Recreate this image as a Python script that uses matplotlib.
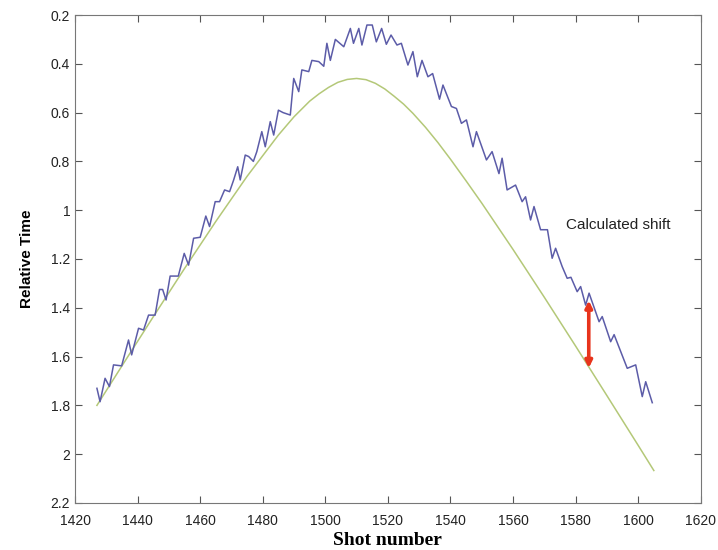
import matplotlib
matplotlib.use("Agg")
import matplotlib.pyplot as plt

# model curve
model_shot = [1427, 1435, 1445, 1455, 1465, 1475, 1485, 1490, 1495, 1498,
              1501, 1504, 1507, 1510, 1513, 1516, 1519, 1522, 1525, 1528,
              1532, 1536, 1540, 1545, 1550, 1560, 1570, 1580, 1590, 1600, 1605]
model_time = [1.800, 1.638, 1.437, 1.239, 1.046, 0.861, 0.692, 0.617, 0.553,
              0.523, 0.497, 0.476, 0.464, 0.460, 0.465, 0.480, 0.503, 0.533,
              0.565, 0.603, 0.660, 0.723, 0.791, 0.880, 0.971, 1.161, 1.357,
              1.557, 1.760, 1.964, 2.067]

# picked times (jagged line)
pick_shot = [1427.0, 1428.0, 1429.6, 1431.0, 1432.3, 1434.9, 1437.1, 1438.1,
             1440.3, 1441.9, 1443.5, 1445.6, 1447.0, 1448.0, 1449.1, 1450.4,
             1453.0, 1454.9, 1456.3, 1457.9, 1460.0, 1461.8, 1463.0, 1464.8,
             1466.2, 1467.8, 1469.4, 1470.7, 1472.0, 1472.8, 1474.4, 1475.5,
             1477.0, 1478.1, 1479.7, 1480.8, 1482.4, 1483.5, 1485.0, 1486.5,
             1488.8, 1489.9, 1491.5, 1492.5, 1494.7, 1495.7, 1497.9, 1499.5,
             1500.5, 1501.6, 1503.2, 1505.9, 1508.0, 1509.0, 1510.7, 1511.7,
             1513.3, 1515.0, 1516.3, 1518.0, 1519.5, 1521.0, 1522.9, 1524.3,
             1526.4, 1528.0, 1529.4, 1530.9, 1532.8, 1534.3, 1536.5, 1537.6,
             1540.3, 1541.9, 1543.5, 1545.1, 1547.2, 1548.3, 1551.5, 1553.3,
             1555.5, 1556.5, 1558.1, 1560.8, 1562.9, 1564.0, 1565.6, 1566.7,
             1568.8, 1571.0, 1572.5, 1573.6, 1575.7, 1577.3, 1578.5, 1580.5,
             1581.6, 1583.2, 1584.3, 1587.5, 1588.5, 1591.2, 1592.3, 1596.5,
             1599.2, 1601.3, 1602.4, 1604.5]
pick_time = [1.730, 1.785, 1.689, 1.723, 1.634, 1.638, 1.532, 1.593,
             1.484, 1.491, 1.430, 1.430, 1.325, 1.325, 1.368, 1.270,
             1.270, 1.177, 1.225, 1.115, 1.111, 1.024, 1.067, 0.965,
             0.965, 0.917, 0.924, 0.876, 0.822, 0.876, 0.774, 0.780,
             0.800, 0.760, 0.678, 0.740, 0.637, 0.692, 0.590, 0.600,
             0.610, 0.460, 0.514, 0.425, 0.432, 0.386, 0.391, 0.410,
             0.316, 0.386, 0.300, 0.330, 0.255, 0.316, 0.255, 0.323,
             0.241, 0.241, 0.310, 0.255, 0.320, 0.282, 0.323, 0.316,
             0.405, 0.350, 0.453, 0.386, 0.453, 0.440, 0.545, 0.487,
             0.575, 0.583, 0.644, 0.630, 0.740, 0.678, 0.794, 0.760,
             0.850, 0.787, 0.917, 0.897, 0.965, 0.945, 1.040, 0.985,
             1.080, 1.080, 1.197, 1.156, 1.231, 1.279, 1.275, 1.334,
             1.313, 1.389, 1.340, 1.457, 1.436, 1.539, 1.510, 1.648,
             1.634, 1.764, 1.703, 1.789]

shift_shot = 1584.2
shift_top, shift_bottom = 1.37, 1.647

plt.rcParams['font.family'] = ['Liberation Sans', 'DejaVu Sans']

fig = plt.figure(figsize=(7.18, 5.5), dpi=100)
ax = fig.add_axes([0.1045, 0.0855, 0.8715, 0.8872])

ax.plot(model_shot, model_time, color='#b4c878', lw=1.1)
ax.plot(pick_shot, pick_time, color='#5c5ca8', lw=1.1)

ax.annotate('', xy=(shift_shot, shift_top), xytext=(shift_shot, shift_bottom),
            arrowprops=dict(arrowstyle='<|-|>', color='#e8341c', lw=2.6,
                            mutation_scale=10, shrinkA=0, shrinkB=0))
ax.text(1576.8, 1.06, 'Calculated shift', fontsize=11, color='#222222',
        va='center', ha='left')

ax.set_xlim(1420, 1620)
ax.set_ylim(2.2, 0.2)
ax.set_xticks(range(1420, 1621, 20))
ax.set_yticks([0.2, 0.4, 0.6, 0.8, 1, 1.2, 1.4, 1.6, 1.8, 2, 2.2])
ax.set_yticklabels(['0.2', '0.4', '0.6', '0.8', '1', '1.2', '1.4', '1.6',
                    '1.8', '2', '2.2'])
ax.tick_params(direction='in', top=True, right=True, length=5,
               labelsize=10, colors='#555555', labelcolor='#222222')
ax.tick_params(axis='x', pad=8)
for s in ax.spines.values():
    s.set_color('#777777')

ax.set_xlabel('Shot number', family='Liberation Serif', fontweight='bold',
              fontsize=14, labelpad=3)
ax.set_ylabel('Relative Time', fontweight='bold', fontsize=11, labelpad=12)

fig.savefig('out.png', dpi=100)
